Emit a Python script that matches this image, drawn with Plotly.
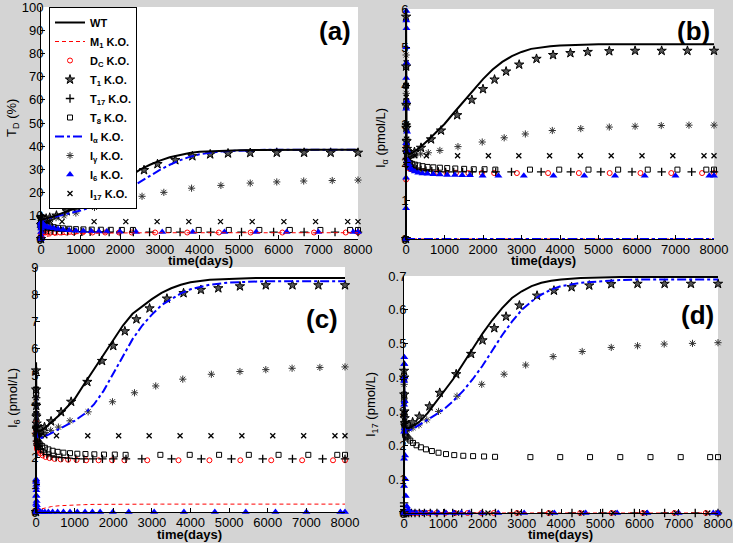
import plotly.graph_objects as go

# ---------------- time grids (days) ----------------
t_line = [0, 2, 4, 7, 11, 16, 23, 32, 45, 70, 100, 200, 400, 600, 800, 1000, 1250, 1500, 1750,
          2000, 2250, 2500, 2750, 3000, 3250, 3500, 3750, 4000, 4500, 5000, 5500, 6000, 7000, 8000]
t_T1 = [0, 2, 4, 7, 11, 16, 23, 32, 45, 70, 130, 220, 390, 650, 910, 1330, 1710, 2000, 2300, 2600,
        2940, 3390, 3820, 4270, 4720, 5280, 5950, 6640, 7310, 8000]
t_T17 = [0, 2, 4, 7, 11, 16, 23, 32, 45, 70, 120, 190, 280, 390, 520, 670, 840, 1030, 1240, 1470,
         1720, 2000, 2330, 2740, 3510, 4280, 5060, 5870, 6640, 7420, 8000]
t_T8 = [0, 2, 4, 7, 11, 16, 23, 32, 45, 70, 110, 160, 230, 320, 430, 560, 710, 880, 1070, 1280,
        1510, 1760, 2040, 2320, 3220, 3980, 4740, 5510, 6280, 7050, 7800, 8000]
t_Dc = [0, 2, 4, 7, 11, 16, 23, 32, 45, 70, 110, 170, 250, 350, 480, 640, 830, 1050, 1300, 1620,
        1970, 2290, 2880, 3690, 4490, 5290, 6090, 6890, 7690, 8000]
t_Ig = [0, 2, 4, 7, 11, 16, 23, 32, 45, 70, 130, 230, 380, 580, 880, 1350, 1980, 2550, 3100, 3800,
        4540, 5280, 5950, 6630, 7350, 8000]
t_I6 = [0, 1, 2, 3, 4, 5, 6, 8, 10, 13, 17, 22, 28, 36, 46, 70, 110, 160, 230, 320, 430, 560, 710,
        880, 1070, 1270, 1460, 1660, 1990, 2400, 3060, 3830, 4630, 5430, 6200, 7000, 7880, 8000]
t_I17 = [0, 2, 4, 7, 11, 16, 23, 32, 45, 70, 130, 230, 530, 1340, 2140, 2930, 3730, 4530, 5330,
         6130, 6930, 7740, 8000]

# ---------------- panel (a): T_D (%) ----------------
TD_WT = [0, 5.5, 8.5, 9.6, 9.3, 8.8, 8.5, 8.4, 8.4, 8.5, 8.7, 9.2, 10.3, 11.5, 12.8, 14.3, 16.4, 18.9,
         21.7, 24.6, 27.4, 29.9, 32.0, 33.8, 35.2, 36.3, 37.1, 37.6, 38.1, 38.3, 38.4, 38.5, 38.5, 38.5]
TD_M1 = [0, 0.2, 0.35, 0.5, 0.6, 0.7, 0.75, 0.8, 0.85, 0.9, 1.0, 1.3, 1.75, 2.05, 2.25, 2.4, 2.5,
         2.58, 2.63, 2.66, 2.68, 2.7, 2.7, 2.7, 2.7, 2.7, 2.7, 2.7, 2.7, 2.7, 2.7, 2.7, 2.7, 2.7]
TD_Ia = [0, 5, 8, 9, 8.8, 8.5, 8.3, 8.2, 8.2, 8.3, 8.5, 9.0, 9.8, 10.6, 11.4, 12.3, 13.6, 15.1, 17.0,
         19.3, 21.9, 24.6, 27.3, 29.8, 32.0, 33.9, 35.4, 36.5, 37.7, 38.2, 38.4, 38.5, 38.5, 38.5]
TD_T1 = [0, 6, 9, 9.5, 9.2, 8.8, 8.6, 8.5, 8.5, 8.6, 8.8, 9.2, 10.1, 12.0, 13.8, 17.6, 21.4, 24.7,
         27.7, 29.7, 32.3, 34.0, 35.7, 36.5, 36.9, 37.1, 37.2, 37.2, 37.2, 37.2]
TD_T17 = [0, 5, 7, 6.5, 6, 5.5, 5, 4.7, 4.5, 4.3, 4.1, 3.9, 3.7, 3.5, 3.4, 3.3, 3.2, 3.15, 3.1, 3.05,
          3.0, 3.0, 3.0, 3.0, 3.0, 3.0, 3.0, 3.0, 3.0, 3.0, 3.0]
TD_T8 = [0, 6, 8, 8.3, 8, 7.6, 7.2, 6.9, 6.6, 6.3, 6.0, 5.7, 5.4, 5.1, 4.8, 4.6, 4.4, 4.25, 4.15,
         4.05, 4.0, 3.95, 3.9, 3.9, 3.9, 3.9, 3.9, 3.9, 3.9, 3.9, 3.9, 3.9]
TD_Dc = [0, 1, 1.8, 2.3, 2.6, 2.7, 2.8, 2.8, 2.8, 2.8, 2.8, 2.8, 2.8, 2.8, 2.8, 2.8, 2.8, 2.8, 2.8,
         2.8, 2.8, 2.8, 2.8, 2.8, 2.8, 2.8, 2.8, 2.8, 2.8, 2.8]
TD_Ig = [0, 5, 8, 9, 8.8, 8.5, 8.3, 8.2, 8.2, 8.2, 8.3, 8.6, 9.2, 10.0, 11.2, 13.6, 16.3, 18.4, 20.1,
         21.9, 23.1, 24.1, 24.6, 25.0, 25.2, 25.4]
TD_I6 = [0, 1.5, 3, 4.5, 5.5, 6.3, 6.8, 7.2, 7.3, 7.2, 7.0, 6.7, 6.4, 6.1, 5.8, 5.6, 5.4, 5.2, 4.9,
         4.6, 4.3, 4.0, 3.8, 3.6, 3.45, 3.35, 3.25, 3.2, 3.1, 3.05, 3.0, 3.0, 3.0, 3.0, 3.0, 3.0, 3.0, 3.0]
TD_I17 = [0, 5, 8, 9, 8.8, 8.5, 8.2, 8.0, 7.9, 7.8, 7.7, 7.6, 7.5, 7.5, 7.5, 7.5, 7.5, 7.5, 7.5, 7.5,
          7.5, 7.5, 7.5]

# ---------------- panel (b): I_alpha (pmol/L) ----------------
Ia_WT = [0, 5.9, 4.6, 3.6, 3.0, 2.6, 2.4, 2.3, 2.25, 2.22, 2.22, 2.27, 2.42, 2.6, 2.8, 3.0, 3.3, 3.6,
         3.9, 4.17, 4.42, 4.62, 4.77, 4.88, 4.96, 5.0, 5.03, 5.05, 5.07, 5.08, 5.08, 5.08, 5.08, 5.08]
Ia_M1 = [0, 0, 0, 0, 0, 0, 0, 0, 0, 0, 0, 0, 0, 0, 0, 0, 0, 0, 0, 0, 0, 0, 0, 0, 0, 0, 0, 0, 0, 0,
         0, 0, 0, 0]
Ia_Ia = [0, 0, 0, 0, 0, 0, 0, 0, 0, 0, 0, 0, 0, 0, 0, 0, 0, 0, 0, 0, 0, 0, 0, 0, 0, 0, 0, 0, 0, 0,
         0, 0, 0, 0]
Ia_T1 = [0, 5.8, 4.5, 3.5, 2.9, 2.55, 2.35, 2.25, 2.2, 2.2, 2.22, 2.27, 2.38, 2.6, 2.83, 3.23, 3.63,
         3.91, 4.16, 4.37, 4.55, 4.7, 4.8, 4.85, 4.88, 4.9, 4.91, 4.91, 4.91, 4.91]
Ia_T17 = [0, 3, 3.5, 3.0, 2.6, 2.3, 2.1, 2.0, 1.95, 1.9, 1.87, 1.84, 1.82, 1.8, 1.78, 1.77, 1.76,
          1.75, 1.75, 1.75, 1.75, 1.75, 1.75, 1.75, 1.75, 1.75, 1.75, 1.75, 1.75, 1.75, 1.75]
Ia_T8 = [0, 4, 4.5, 3.6, 2.9, 2.5, 2.25, 2.1, 2.03, 2.0, 1.98, 1.96, 1.94, 1.92, 1.9, 1.88, 1.87,
         1.86, 1.85, 1.84, 1.83, 1.82, 1.82, 1.81, 1.81, 1.81, 1.81, 1.81, 1.81, 1.81, 1.81, 1.81]
Ia_Dc = [0, 1.55, 2.4, 2.3, 2.1, 2.0, 1.95, 1.9, 1.88, 1.85, 1.83, 1.81, 1.79, 1.77, 1.76, 1.75, 1.74,
         1.73, 1.73, 1.72, 1.72, 1.72, 1.72, 1.72, 1.72, 1.72, 1.72, 1.72, 1.72, 1.72]
Ia_Ig = [0, 4, 4.8, 3.8, 3.0, 2.6, 2.35, 2.25, 2.2, 2.18, 2.18, 2.2, 2.22, 2.25, 2.31, 2.41, 2.53,
         2.64, 2.74, 2.83, 2.88, 2.92, 2.94, 2.96, 2.97, 2.97]
Ia_I6 = [0, 0.8, 1.6, 2.5, 3.4, 4.2, 5.0, 5.7, 5.95, 5.5, 4.6, 3.6, 2.8, 2.3, 2.05, 1.95, 1.85, 1.8,
         1.76, 1.73, 1.71, 1.7, 1.69, 1.68, 1.67, 1.67, 1.66, 1.66, 1.65, 1.65, 1.65, 1.65, 1.65, 1.65,
         1.65, 1.65, 1.65, 1.65]
Ia_I17 = [0, 4, 4.6, 3.7, 3.0, 2.6, 2.35, 2.25, 2.2, 2.19, 2.18, 2.17, 2.17, 2.17, 2.17, 2.17, 2.17,
          2.17, 2.17, 2.17, 2.17, 2.17, 2.17]

# ---------------- panel (c): I_6 (pmol/L) ----------------
I6_WT = [0, 5.5, 4.8, 4.1, 3.6, 3.3, 3.1, 3.0, 2.97, 2.97, 2.98, 3.05, 3.3, 3.55, 3.85, 4.15, 4.7,
         5.25, 5.8, 6.35, 6.85, 7.28, 7.55, 7.82, 8.05, 8.22, 8.35, 8.44, 8.53, 8.57, 8.59, 8.6, 8.6, 8.6]
I6_M1 = [0, 0.01, 0.02, 0.03, 0.04, 0.05, 0.06, 0.07, 0.08, 0.09, 0.1, 0.14, 0.2, 0.23, 0.25, 0.26,
         0.27, 0.28, 0.285, 0.29, 0.29, 0.29, 0.29, 0.29, 0.29, 0.29, 0.29, 0.29, 0.29, 0.29, 0.29,
         0.29, 0.29, 0.29]
I6_Ia = [0, 4.5, 4.0, 3.5, 3.1, 2.9, 2.8, 2.75, 2.72, 2.7, 2.7, 2.75, 2.9, 3.05, 3.2, 3.35, 3.6, 3.95,
         4.45, 5.1, 5.75, 6.35, 6.85, 7.25, 7.6, 7.82, 8.03, 8.18, 8.35, 8.43, 8.46, 8.48, 8.48, 8.48]
I6_T1 = [0, 5.2, 4.5, 3.9, 3.5, 3.25, 3.1, 3.02, 3.0, 3.0, 3.05, 3.12, 3.33, 3.67, 4.05, 4.78, 5.55,
         6.1, 6.64, 7.08, 7.48, 7.84, 8.04, 8.16, 8.22, 8.29, 8.33, 8.33, 8.33, 8.33]
I6_T17 = [0, 4, 4.2, 3.6, 3.1, 2.8, 2.6, 2.5, 2.45, 2.4, 2.3, 2.2, 2.12, 2.06, 2.02, 2.0, 1.98, 1.96,
          1.95, 1.95, 1.95, 1.95, 1.95, 1.95, 1.95, 1.95, 1.95, 1.95, 1.95, 1.95, 1.95]
I6_T8 = [0, 4.5, 4.3, 3.6, 3.1, 2.85, 2.7, 2.62, 2.58, 2.55, 2.48, 2.42, 2.36, 2.3, 2.25, 2.21, 2.18,
         2.16, 2.14, 2.13, 2.12, 2.11, 2.11, 2.1, 2.1, 2.1, 2.1, 2.1, 2.1, 2.1, 2.1, 2.1]
I6_Dc = [0, 3, 3.3, 2.9, 2.6, 2.45, 2.35, 2.3, 2.27, 2.22, 2.15, 2.08, 2.02, 1.98, 1.95, 1.93, 1.92,
         1.91, 1.9, 1.9, 1.9, 1.9, 1.9, 1.9, 1.9, 1.9, 1.9, 1.9, 1.9, 1.9]
I6_Ig = [0, 4.5, 4.2, 3.6, 3.2, 3.0, 2.92, 2.88, 2.87, 2.87, 2.88, 2.92, 3.0, 3.12, 3.35, 3.68, 4.05,
         4.38, 4.63, 4.88, 5.06, 5.16, 5.23, 5.28, 5.31, 5.33]
I6_I6 = [0, 0.3, 0.6, 0.9, 1.1, 1.2, 1.15, 1.0, 0.8, 0.6, 0.4, 0.25, 0.15, 0.08, 0.04, 0.02, 0.01,
         0, 0, 0, 0, 0, 0, 0, 0, 0, 0, 0, 0, 0, 0, 0, 0, 0, 0, 0, 0, 0]
I6_I17 = [0, 4.5, 4.2, 3.6, 3.2, 3.0, 2.9, 2.85, 2.83, 2.82, 2.81, 2.8, 2.8, 2.8, 2.8, 2.8, 2.8, 2.8,
          2.8, 2.8, 2.8, 2.8, 2.8]

# ---------------- panel (d): I_17 (pmol/L) ----------------
I17_WT = [0, 0.45, 0.42, 0.37, 0.32, 0.29, 0.27, 0.26, 0.255, 0.25, 0.25, 0.255, 0.27, 0.295, 0.325,
          0.355, 0.395, 0.44, 0.485, 0.53, 0.57, 0.605, 0.635, 0.655, 0.67, 0.68, 0.686, 0.69, 0.694,
          0.696, 0.697, 0.697, 0.697, 0.697]
I17_M1 = [0, 0, 0, 0, 0, 0, 0, 0, 0, 0, 0, 0, 0, 0, 0, 0, 0, 0, 0, 0, 0, 0, 0, 0, 0, 0, 0, 0, 0, 0,
          0, 0, 0, 0]
I17_Ia = [0, 0.4, 0.38, 0.34, 0.3, 0.27, 0.255, 0.248, 0.245, 0.243, 0.243, 0.247, 0.26, 0.275, 0.29,
          0.305, 0.33, 0.36, 0.395, 0.435, 0.48, 0.525, 0.565, 0.6, 0.625, 0.645, 0.66, 0.67, 0.68,
          0.685, 0.688, 0.69, 0.69, 0.69]
I17_T1 = [0, 0.42, 0.4, 0.35, 0.3, 0.28, 0.265, 0.258, 0.255, 0.255, 0.26, 0.268, 0.285, 0.315, 0.355,
          0.41, 0.47, 0.51, 0.546, 0.58, 0.613, 0.642, 0.657, 0.667, 0.672, 0.676, 0.677, 0.677,
          0.677, 0.677]
I17_T17 = [0, 0.03, 0.02, 0.01, 0, 0, 0, 0, 0, 0, 0, 0, 0, 0, 0, 0, 0, 0, 0, 0, 0, 0, 0, 0, 0, 0, 0,
           0, 0, 0, 0]
I17_T8 = [0, 0.35, 0.33, 0.29, 0.26, 0.245, 0.235, 0.23, 0.228, 0.225, 0.22, 0.214, 0.207, 0.2, 0.194,
          0.188, 0.183, 0.178, 0.174, 0.171, 0.169, 0.168, 0.167, 0.166, 0.165, 0.165, 0.165, 0.165,
          0.165, 0.165, 0.165, 0.165]
I17_Dc = [0, 0, 0, 0, 0, 0, 0, 0, 0, 0, 0, 0, 0, 0, 0, 0, 0, 0, 0, 0, 0, 0, 0, 0, 0, 0, 0, 0, 0, 0]
I17_Ig = [0, 0.4, 0.38, 0.33, 0.29, 0.27, 0.257, 0.25, 0.248, 0.247, 0.248, 0.252, 0.26, 0.275, 0.3,
          0.345, 0.38, 0.41, 0.437, 0.462, 0.477, 0.489, 0.494, 0.499, 0.501, 0.503]
I17_I6 = [0, 0.08, 0.16, 0.24, 0.32, 0.39, 0.44, 0.46, 0.44, 0.4, 0.33, 0.25, 0.17, 0.1, 0.05, 0.02,
          0.01, 0, 0, 0, 0, 0, 0, 0, 0, 0, 0, 0, 0, 0, 0, 0, 0, 0, 0, 0, 0, 0]
I17_I17 = [0, 0, 0, 0, 0, 0, 0, 0, 0, 0, 0, 0, 0, 0, 0, 0, 0, 0, 0, 0, 0, 0, 0]

# ---------------- labels ----------------
legend_names = {
    "WT": "<b>WT</b>", "M1": "<b>M<sub>1</sub> K.O.</b>", "Dc": "<b>D<sub>C</sub> K.O.</b>",
    "T1": "<b>T<sub>1</sub> K.O.</b>", "T17": "<b>T<sub>17</sub> K.O.</b>",
    "T8": "<b>T<sub>8</sub> K.O.</b>", "Ia": "<b>I<sub>α</sub> K.O.</b>",
    "Ig": "<b>I<sub>γ</sub> K.O.</b>", "I6": "<b>I<sub>6</sub> K.O.</b>",
    "I17": "<b>I<sub>17</sub> K.O.</b>",
}
order = ["WT", "M1", "Dc", "T1", "T17", "T8", "Ia", "Ig", "I6", "I17"]
y_titles = ["T<sub>D</sub> (%)", "I<sub>α</sub> (pmol/L)", "I<sub>6</sub> (pmol/L)",
            "I<sub>17</sub> (pmol/L)"]
panel_tags = ["(a)", "(b)", "(c)", "(d)"]
y_ranges = [[0, 100], [0, 6], [0, 9], [0, 0.7]]
y_dticks = [10, 1, 1, 0.1]
x_ticks = [0, 1000, 2000, 3000, 4000, 5000, 6000, 7000, 8000]

times = {"WT": t_line, "M1": t_line, "Ia": t_line, "T1": t_T1, "T17": t_T17, "T8": t_T8,
         "Dc": t_Dc, "Ig": t_Ig, "I6": t_I6, "I17": t_I17}
panels = [
    {"WT": TD_WT, "M1": TD_M1, "Ia": TD_Ia, "T1": TD_T1, "T17": TD_T17, "T8": TD_T8,
     "Dc": TD_Dc, "Ig": TD_Ig, "I6": TD_I6, "I17": TD_I17},
    {"WT": Ia_WT, "M1": Ia_M1, "Ia": Ia_Ia, "T1": Ia_T1, "T17": Ia_T17, "T8": Ia_T8,
     "Dc": Ia_Dc, "Ig": Ia_Ig, "I6": Ia_I6, "I17": Ia_I17},
    {"WT": I6_WT, "M1": I6_M1, "Ia": I6_Ia, "T1": I6_T1, "T17": I6_T17, "T8": I6_T8,
     "Dc": I6_Dc, "Ig": I6_Ig, "I6": I6_I6, "I17": I6_I17},
    {"WT": I17_WT, "M1": I17_M1, "Ia": I17_Ia, "T1": I17_T1, "T17": I17_T17, "T8": I17_T8,
     "Dc": I17_Dc, "Ig": I17_Ig, "I6": I17_I6, "I17": I17_I17},
]

# ---------------- styles ----------------
W, H = 733, 543
BLUE = "#0000ff"
FONT = "Arial, Liberation Sans, sans-serif"
styles = {
    "WT": dict(mode="lines", line=dict(color="black", width=2)),
    "M1": dict(mode="lines", line=dict(color="#ff0000", width=1, dash="4px,3px")),
    "Ia": dict(mode="lines", line=dict(color=BLUE, width=2, dash="dashdot")),
    "Dc": dict(mode="markers", marker=dict(symbol="circle-open", size=5, color="#ff0000",
                                           line=dict(width=1, color="#ff0000"))),
    "T1": dict(mode="markers", marker=dict(symbol="star", size=7, color="#555555",
                                           line=dict(width=1, color="black"))),
    "T17": dict(mode="markers", marker=dict(symbol="cross-thin-open", size=6, color="black",
                                            line=dict(width=1.3, color="black"))),
    "T8": dict(mode="markers", marker=dict(symbol="square-open", size=5, color="black",
                                           line=dict(width=1, color="black"))),
    "Ig": dict(mode="markers", marker=dict(symbol="asterisk-open", size=6, color="#333333",
                                           line=dict(width=1, color="#333333"))),
    "I6": dict(mode="markers", marker=dict(symbol="triangle-up", size=7, color=BLUE,
                                           line=dict(width=0))),
    "I17": dict(mode="markers", marker=dict(symbol="x-thin-open", size=5, color="black",
                                            line=dict(width=1.3, color="black"))),
}

# plot areas in pixels: (left, right, top, bottom)
boxes = [(41, 358, 7, 239), (406, 714, 9, 239), (36, 345, 267, 512), (404, 718, 276, 513)]

fig = go.Figure()
draw_order = ["Dc", "T17", "T8", "Ig", "I17", "T1", "I6", "M1", "Ia", "WT"]
for p, vals in enumerate(panels):
    xa = "x" if p == 0 else f"x{p + 1}"
    ya = "y" if p == 0 else f"y{p + 1}"
    for key in draw_order:
        st = styles[key]
        fig.add_trace(go.Scatter(
            x=times[key], y=vals[key], xaxis=xa, yaxis=ya, name=legend_names[key],
            showlegend=(p == 0), legendrank=order.index(key) + 1, cliponaxis=False, **st))

axis_font = dict(family=FONT, size=13, color="black")
layout = dict(
    width=W, height=H, margin=dict(l=0, r=0, t=0, b=0, autoexpand=False),
    paper_bgcolor="#d4d4d4", plot_bgcolor="white",
    font=axis_font,
    legend=dict(x=49 / W, y=1 - 7 / H, xanchor="left", yanchor="top", bgcolor="white",
                bordercolor="black", borderwidth=1, itemwidth=30, tracegroupgap=0,
                font=dict(family=FONT, size=11, color="black")),
    annotations=[],
)
for p in range(4):
    l, r, t, b = boxes[p]
    sx = "" if p == 0 else str(p + 1)
    common = dict(showline=True, linecolor="black", linewidth=1, ticks="inside", ticklen=4,
                  tickcolor="black", mirror=False, showgrid=False, zeroline=False,
                  tickfont=axis_font, automargin=False, ticklabeloverflow="allow")
    layout["xaxis" + sx] = dict(domain=[l / W, r / W], anchor="y" + sx, range=[0, 8000],
                                tickvals=x_ticks, ticklabelstandoff=-2, **common)
    layout["yaxis" + sx] = dict(domain=[1 - b / H, 1 - t / H], anchor="x" + sx,
                                range=y_ranges[p], dtick=y_dticks[p], tick0=0,
                                ticklabelstandoff=-6, **common)

ann = layout["annotations"]
tag_pos = [(335, 31), (693, 31), (322, 319), (697, 315)]
ytitle_pos = [(12, 118), (381, 138), (13, 398), (371, 405)]
xtitle_pos = [(200, 260), (543, 260), (189, 534), (560, 534)]
for p in range(4):
    ann.append(dict(text="<b>" + panel_tags[p] + "</b>", x=tag_pos[p][0] / W, y=1 - tag_pos[p][1] / H,
                    xref="paper", yref="paper", showarrow=False, xanchor="center", yanchor="middle",
                    font=dict(family=FONT, size=26, color="black")))
    ann.append(dict(text=y_titles[p], x=ytitle_pos[p][0] / W, y=1 - ytitle_pos[p][1] / H,
                    xref="paper", yref="paper", showarrow=False, textangle=-90,
                    xanchor="center", yanchor="middle",
                    font=dict(family=FONT, size=13, color="black")))
    ann.append(dict(text="<b>time(days)</b>", x=xtitle_pos[p][0] / W, y=1 - xtitle_pos[p][1] / H,
                    xref="paper", yref="paper", showarrow=False, xanchor="center", yanchor="middle",
                    font=dict(family=FONT, size=13, color="black")))

fig.update_layout(**layout)
fig.write_html("out.html", config={"displayModeBar": False},
               post_script="document.body.style.margin='0';document.body.style.overflow='hidden';")
